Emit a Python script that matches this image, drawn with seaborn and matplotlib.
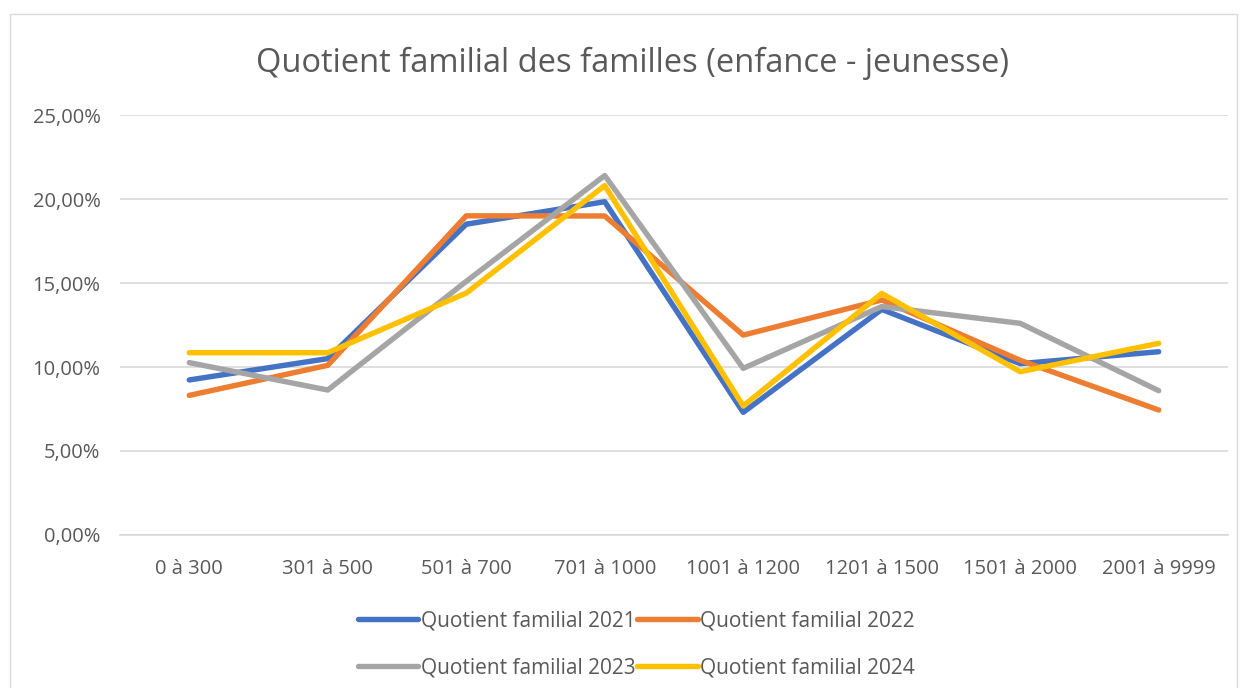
import pandas as pd
import matplotlib
matplotlib.use("Agg")
import matplotlib.pyplot as plt
import seaborn as sns
from matplotlib.ticker import FuncFormatter
from matplotlib.patches import Rectangle

# Donnees (en %)
tranches = ["0 à 300", "301 à 500", "501 à 700", "701 à 1000",
            "1001 à 1200", "1201 à 1500", "1501 à 2000", "2001 à 9999"]
qf_2021 = [9.23, 10.5, 18.5, 19.84, 7.3, 13.43, 10.2, 10.91]
qf_2022 = [8.31, 10.1, 19.0, 18.99, 11.9, 13.99, 10.4, 7.44]
qf_2023 = [10.26, 8.63, 15.1, 21.4, 9.92, 13.6, 12.6, 8.59]
qf_2024 = [10.85, 10.85, 14.4, 20.8, 7.68, 14.38, 9.72, 11.41]
series = ["Quotient familial 2021", "Quotient familial 2022",
          "Quotient familial 2023", "Quotient familial 2024"]
couleurs = ["#4472C4", "#ED7D31", "#A5A5A5", "#FFC000"]

df = pd.DataFrame({
    "tranche": tranches * 4,
    "x": list(range(len(tranches))) * 4,
    "valeur": qf_2021 + qf_2022 + qf_2023 + qf_2024,
    "serie": [s for s in series for _ in tranches],
})

sns.set_theme(style="white")
plt.rcParams["font.family"] = ["Open Sans", "DejaVu Sans"]
texte = "#595959"

fig = plt.figure(figsize=(12.45, 6.88), dpi=100)
ax = fig.add_axes([0.0964, 0.2224, 0.8899, 0.6104])

sns.lineplot(data=df, x="x", y="valeur", hue="serie", palette=couleurs,
             linewidth=3.9, ax=ax, sort=False, legend=True)

ax.set_xlim(-0.5, len(tranches) - 0.5)
ax.set_ylim(0, 25)
ax.set_yticks([0, 5, 10, 15, 20, 25])
ax.yaxis.set_major_formatter(FuncFormatter(lambda v, p: f"{v:.2f}%".replace(".", ",")))
ax.set_xticks(range(len(tranches)))
ax.set_xticklabels(tranches)
ax.tick_params(axis="both", colors=texte, labelsize=14.5, length=0)
ax.tick_params(axis="x", pad=17)
ax.tick_params(axis="y", pad=14)
ax.set_xlabel("")
ax.set_ylabel("")
ax.grid(axis="y", color="#D9D9D9", linewidth=1.2)
ax.set_axisbelow(True)
for s in ["top", "right", "left"]:
    ax.spines[s].set_visible(False)
ax.spines["bottom"].set_color("#D9D9D9")
ax.spines["bottom"].set_linewidth(1.2)

fig.text(0.508, 0.908, "Quotient familial des familles (enfance - jeunesse)",
         ha="center", va="center", fontsize=23.5, color=texte)

# Legende sur deux lignes
handles, labels = ax.get_legend_handles_labels()
ordre = [0, 2, 1, 3]
ax.legend([handles[i] for i in ordre], [labels[i] for i in ordre],
          ncol=2, loc="upper center", bbox_to_anchor=(0.466, -0.135),
          frameon=False, fontsize=15, labelcolor=texte,
          handlelength=2.9, handletextpad=0.12, columnspacing=0.1,
          labelspacing=1.25)

# cadre du graphique
fig.patches.append(Rectangle((10 / 1245, -0.02), 1227 / 1245, 1 - 14 / 688 + 0.02,
                             transform=fig.transFigure, fill=False,
                             edgecolor="#D9D9D9", linewidth=1.0))

fig.savefig("out.png", dpi=100)
